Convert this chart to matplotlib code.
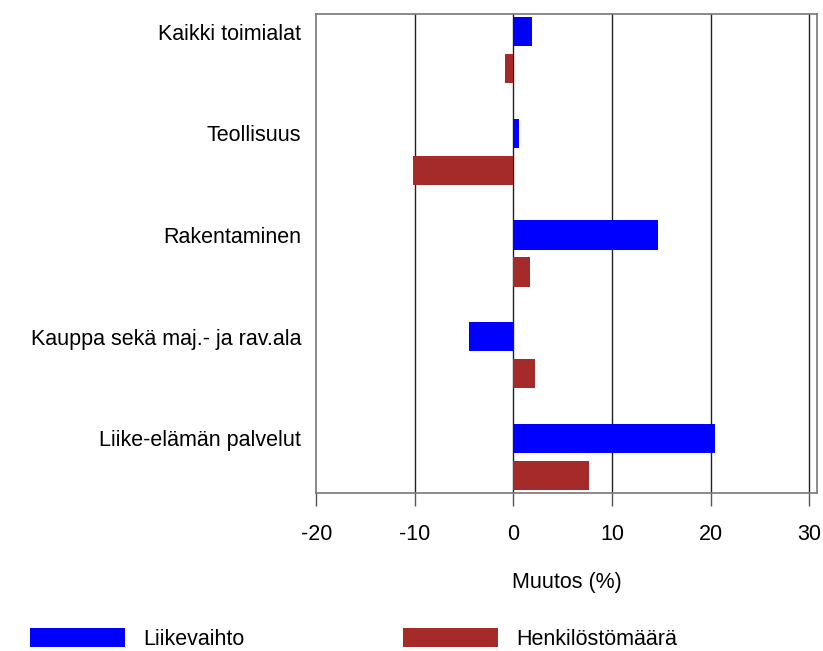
import matplotlib
matplotlib.use("Agg")
import matplotlib.pyplot as plt
from matplotlib.patches import Patch
import numpy as np

plt.rcParams['font.family'] = ['Liberation Sans', 'DejaVu Sans']

categories = ["Kaikki toimialat", "Teollisuus", "Rakentaminen",
              "Kauppa sekä maj.- ja rav.ala", "Liike-elämän palvelut"]
liikevaihto = [1.9, 0.6, 14.7, -4.5, 20.5]
henkilosto = [-0.9, -10.2, 1.7, 2.2, 7.7]
series_names = ["Liikevaihto", "Henkilöstömäärä"]
xticks = [-20, -10, 0, 10, 20, 30]

blue = "#0000FF"
red = "#A52A2A"
FS = 15.5

fig = plt.figure(figsize=(8.23, 6.51), dpi=100)
W, H = 823, 651
ax = fig.add_axes([316.3 / W, 1 - 493 / H, (817 - 316.3) / W, (493 - 14) / H])

y = np.arange(len(categories))
off = 0.182
h = 0.29
ax.barh(y - off, liikevaihto, height=h, color=blue, zorder=3)
ax.barh(y + off, henkilosto, height=h, color=red, zorder=3)

ax.set_xlim(-20, 30.8)
ax.set_ylim(len(categories) - 1 + 0.355, -0.355)
ax.set_xticks(xticks)
ax.set_xticklabels([str(t) for t in xticks], fontsize=FS)
ax.set_yticks(y - off)
ax.set_yticklabels(categories, fontsize=FS)
ax.tick_params(axis='y', length=0, pad=11)
ax.tick_params(axis='x', length=9, width=1, color="#555555", pad=13)
for t in xticks[1:]:
    ax.axvline(t, color="#222222", lw=1, zorder=1)
for s in ax.spines.values():
    s.set_color("#777777")
    s.set_linewidth(1.2)
ax.set_xlabel("Muutos (%)", fontsize=FS, labelpad=20)

handles = [Patch(facecolor=blue, edgecolor="none"), Patch(facecolor=red, edgecolor="none")]
fig.legend(handles, series_names, loc='center left', bbox_to_anchor=(30 / W, 1 - 639 / H),
           ncol=2, frameon=False, fontsize=FS, handlelength=4.42, handleheight=1.02,
           handletextpad=0.84, columnspacing=7.35, borderpad=0, borderaxespad=0)

fig.savefig("out.png", dpi=100)
